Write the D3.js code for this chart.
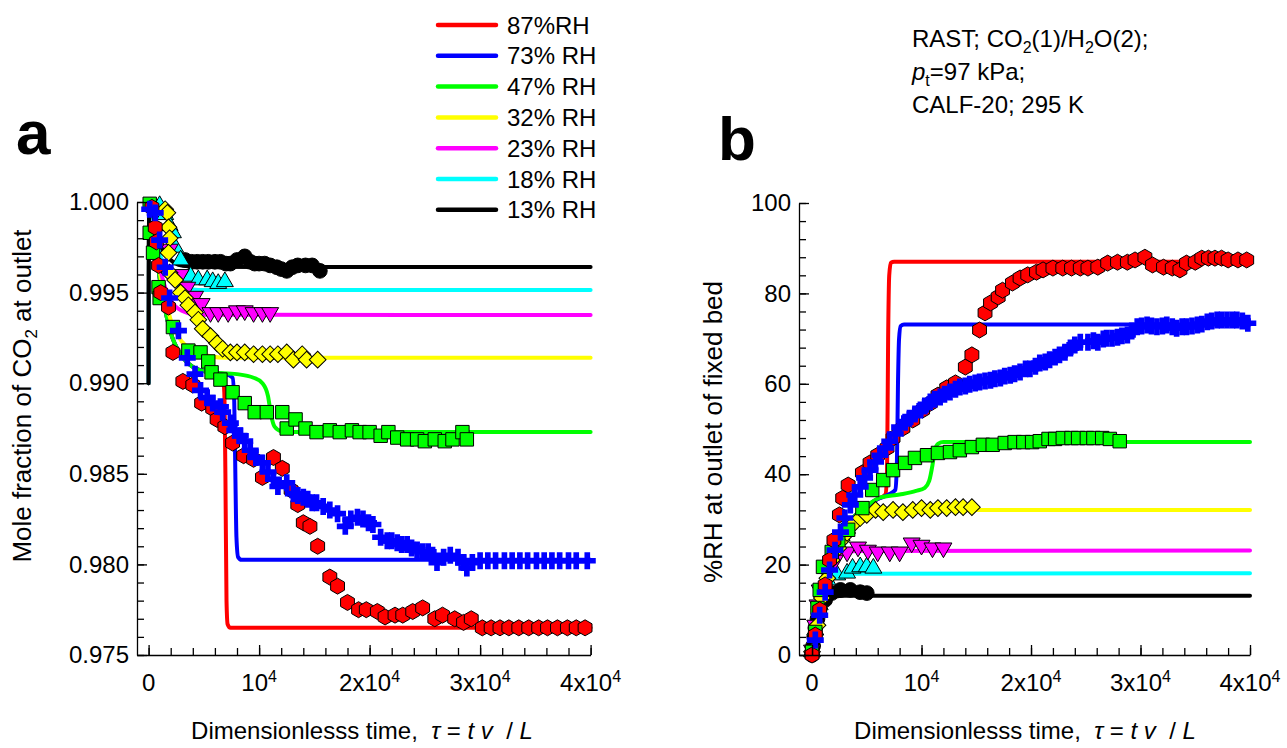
<!DOCTYPE html>
<html>
<head>
<meta charset="utf-8">
<script src="https://cdn.jsdelivr.net/npm/d3@7"></script>
<style>
  body { margin: 0; background: #fff; }
  svg text { font-family: "Liberation Sans", Arial, sans-serif; fill: #000; }
</style>
</head>
<body>
<div id="chart"></div>
<script>
// legend / series setup
var seriesNames = ["87%RH", "73% RH", "47% RH", "32% RH", "23% RH", "18% RH", "13% RH"];
var seriesColors = ["#ff0000", "#0000ff", "#00ff00", "#ffff00", "#ff00ff", "#00ffff", "#000000"];
var seriesSymbols = ["hexagon", "cross", "square", "diamond", "triangleDown", "triangleUp", "circle"];

// tick labels
var xMajorTicks = [0, 10000, 20000, 30000, 40000];
var xTickLabels = [["0", ""], ["10", "4"], ["2x10", "4"], ["3x10", "4"], ["4x10", "4"]];

// ---- panel a : mole fraction of CO2 at outlet, model (RAST) lines ----
var lineA87 = [[0,0.990],[50,1.000],[500,0.9985],[1000,0.9958],[2000,0.9928],[3000,0.9915],[4000,0.9909],[5500,0.9906],[6700,0.9905],[6850,0.9895],[6950,0.9850],[7050,0.9780],[7150,0.9767],[7400,0.9765],[40000,0.9765]];
var lineA73 = [[0,0.990],[50,1.000],[500,0.9985],[1000,0.9958],[2000,0.9928],[3000,0.9915],[4000,0.9909],[5500,0.9906],[7000,0.9905],[7600,0.9903],[7750,0.9890],[7850,0.9850],[7950,0.9815],[8100,0.9804],[8400,0.98025],[40000,0.98025]];
var lineA47 = [[0,0.990],[50,1.000],[500,0.9985],[1000,0.9958],[2000,0.9928],[3000,0.9915],[4000,0.9909],[5500,0.9906],[8000,0.9905],[9500,0.9903],[10300,0.9900],[10800,0.9893],[11100,0.9882],[11400,0.9876],[12000,0.98735],[13000,0.9873],[40000,0.9873]];
var lineA32 = [[0,0.990],[50,1.000],[500,0.9985],[1000,0.9962],[2000,0.9935],[3000,0.9923],[4000,0.9918],[5500,0.9915],[7000,0.9914],[40000,0.9914]];
var lineA23 = [[0,0.990],[50,1.000],[500,0.9985],[1000,0.9965],[2000,0.9946],[3000,0.9940],[4500,0.99378],[40000,0.99376]];
var lineA18 = [[0,0.990],[50,1.000],[500,0.9988],[1000,0.9972],[2000,0.9958],[3000,0.9953],[4500,0.99515],[40000,0.99514]];
var lineA13 = [[0,0.990],[50,1.000],[500,0.9990],[1000,0.9978],[2000,0.9968],[3000,0.9965],[4500,0.99642],[40000,0.99641]];

// ---- panel a : experimental points ----
var expA87 = [[300,0.9997],[600,0.9986],[700,0.9978],[900,0.9965],[1100,0.9950],[1800,0.9942],[2200,0.9917],[3100,0.9901],[4000,0.9899],[4800,0.9889],[5800,0.9886],[6200,0.9880],[6900,0.9876],[7600,0.9867],[8600,0.9860],[9500,0.9858],[10300,0.9848],[11300,0.9859],[12100,0.9853],[12900,0.9841],[13500,0.9833],[14000,0.9823],[14600,0.9821],[15300,0.9810],[16400,0.9793],[17100,0.9788],[18000,0.9779],[19000,0.9775],[19700,0.9775],[20700,0.9774],[21400,0.9771],[22300,0.9772],[23000,0.9772],[23900,0.9774],[24800,0.9776],[25900,0.9770],[26600,0.9772],[27700,0.9770],[28500,0.9768],[29200,0.9770],[30200,0.9765],[31000,0.9765],[31800,0.9765],[32600,0.9765],[33500,0.9765],[34400,0.9765],[35300,0.9765],[36100,0.9765],[37000,0.9765],[37900,0.9765],[38700,0.9765],[39500,0.9765]];
var expA73 = [[100,0.9996],[600,0.9994],[1000,0.9979],[1500,0.9964],[1900,0.9947],[2700,0.9929],[3500,0.9914],[4200,0.9905],[4700,0.9896],[5300,0.9892],[5800,0.9889],[6500,0.9887],[6700,0.9884],[7400,0.9878],[7800,0.9874],[8300,0.9871],[8700,0.9868],[9200,0.9863],[9700,0.9859],[10300,0.9856],[10800,0.9851],[11300,0.9847],[11700,0.9843],[12500,0.9845],[13100,0.9839],[13500,0.9838],[14000,0.9837],[14400,0.9836],[14800,0.9834],[15200,0.9834],[15800,0.9832],[16400,0.9830],[17100,0.9828],[17800,0.9821],[18300,0.9825],[18900,0.9826],[19400,0.9825],[19900,0.9823],[20300,0.9822],[21000,0.9815],[21600,0.9813],[22000,0.9813],[22500,0.9812],[22900,0.9811],[23400,0.9811],[23800,0.9809],[24300,0.9808],[24800,0.9807],[25300,0.9807],[25700,0.9805],[26100,0.9801],[26700,0.9804],[27300,0.9805],[28000,0.9804],[28500,0.9801],[28800,0.9798],[29300,0.9801],[30000,0.9802],[30700,0.9802],[31400,0.9802],[32200,0.9802],[32900,0.9802],[33600,0.9802],[34300,0.9802],[35100,0.9802],[35800,0.9802],[36500,0.9802],[37200,0.9802],[38000,0.9802],[38700,0.9802],[39700,0.9802]];
var expA47 = [[100,0.9999],[100,0.9983],[400,0.9972],[900,0.9953],[1000,0.9947],[2200,0.9931],[3600,0.9918],[4700,0.9917],[5400,0.9912],[5700,0.9906],[6500,0.9902],[7600,0.9895],[8700,0.9889],[9600,0.9884],[10700,0.9884],[12100,0.9884],[12500,0.9875],[13300,0.9880],[14200,0.9875],[15200,0.9873],[16400,0.9874],[17300,0.9873],[18400,0.9874],[19100,0.9873],[20000,0.9873],[21000,0.9871],[21700,0.9873],[22500,0.9870],[23400,0.9869],[24300,0.9869],[25000,0.9868],[25900,0.9869],[26800,0.9868],[27500,0.9869],[28400,0.9873],[28800,0.9869]];
var expA32 = [[1500,0.9996],[1700,0.9994],[1800,0.9986],[1900,0.9980],[1800,0.9972],[1900,0.9961],[2400,0.9957],[2900,0.9950],[3300,0.9947],[3600,0.9943],[4200,0.9939],[4500,0.9935],[4900,0.9930],[5600,0.9926],[6200,0.9922],[6700,0.9919],[7400,0.9917],[8000,0.9917],[8700,0.9917],[9500,0.9916],[10300,0.9916],[11000,0.9916],[11700,0.9916],[12500,0.9917],[13100,0.9913],[13900,0.9916],[14300,0.9913],[15300,0.9913]];
var expA23 = [[1900,0.9974],[2900,0.9960],[3500,0.9953],[4200,0.9948],[4800,0.9944],[5600,0.9939],[6300,0.9939],[7200,0.9939],[8000,0.9940],[8700,0.9940],[9500,0.9939],[10300,0.9939],[11000,0.9939]];
var expA18 = [[1000,0.9998],[1500,0.9993],[1900,0.9987],[2200,0.9983],[2400,0.9975],[2900,0.9968],[3800,0.9959],[4500,0.9957],[5300,0.9957],[5800,0.9956],[6300,0.9955],[6900,0.9956]];
var expA13 = [[3300,0.9968],[3900,0.9967],[4400,0.9967],[4900,0.9967],[5400,0.9967],[6000,0.9967],[6500,0.9967],[7000,0.9966],[7400,0.9966],[8000,0.9968],[8700,0.9970],[9200,0.9967],[9600,0.9966],[10000,0.9966],[10500,0.9966],[11000,0.9965],[11600,0.9964],[12000,0.9963],[12500,0.9962],[13000,0.9964],[13500,0.9965],[14200,0.9965],[14800,0.9965],[15500,0.9962]];

// ---- panel b : %RH at outlet, model lines ----
var lineB87 = [[0,0],[200,6],[600,13],[1200,19],[2000,24],[3000,28],[4000,31],[5000,33],[6000,34.5],[6700,35.5],[6850,40],[6950,70],[7050,84],[7200,86.8],[7500,87],[40000,87]];
var lineB73 = [[0,0],[200,6],[600,13],[1200,19],[2000,24],[3000,28],[4000,31],[5000,33],[6000,34.5],[7000,35.5],[7600,36.5],[7750,42],[7850,60],[7950,70],[8100,72.8],[8400,73.1],[40000,73.1]];
var lineB47 = [[0,0],[200,6],[600,13],[1200,19],[2000,24],[3000,28],[4000,31],[5000,33],[6200,34.8],[8000,35.5],[9500,36.3],[10300,37],[10700,38.5],[11000,42],[11200,45],[11500,46.7],[12000,47.1],[40000,47.1]];
var lineB32 = [[0,0],[200,6],[600,13],[1200,19],[2000,24],[3000,28],[4000,30.5],[5000,31.5],[6000,31.9],[8000,32.1],[40000,32.1]];
var lineB23 = [[0,0],[200,6],[600,13],[1200,18.5],[2000,21.5],[3000,22.6],[4000,23],[40000,23.1]];
var lineB18 = [[0,0],[200,6],[600,12],[1200,16],[2000,17.5],[3000,18],[40000,18.1]];
var lineB13 = [[0,0],[200,5],[600,10],[1200,12.2],[2000,12.9],[3000,13.1],[40000,13.1]];

// ---- panel b : experimental points ----
var expB87 = [[0,0],[300,4.4],[700,10.0],[1200,15.5],[1600,21.0],[2000,25.4],[2500,31.0],[2800,34.7],[3300,37.6],[4600,40.3],[5300,42.5],[6000,44.2],[6850,45.8],[7400,48.0],[8300,50.2],[9200,52.0],[10100,54.2],[10800,55.7],[11500,57.5],[12300,59.1],[13100,60.2],[14000,63.7],[14600,66.4],[15300,71.9],[15800,75.7],[16300,77.9],[17000,79.2],[17400,80.7],[18300,82.3],[19000,83.4],[19700,84.1],[20500,84.7],[21100,85.2],[22000,85.6],[22900,85.6],[23700,85.6],[24500,85.6],[25200,85.6],[26100,85.8],[27000,86.7],[27900,86.9],[28800,86.9],[29500,87.4],[30400,88.0],[31100,86.3],[32100,85.8],[32900,85.6],[33600,85.2],[34200,86.7],[35000,86.9],[35600,87.8],[36200,87.8],[36800,87.8],[37400,87.8],[38000,87.4],[38900,87.4],[39700,87.4]];
var expB73 = [[300,3.3],[700,8.8],[1200,13.9],[1600,18.8],[2100,23.2],[2600,27.2],[3000,30.3],[3500,33.2],[3900,35.4],[4400,37.2],[4800,39.2],[5300,40.9],[5800,42.7],[6200,44.2],[6700,45.8],[7100,47.3],[7600,48.9],[8000,50.4],[8500,51.5],[8900,52.4],[9400,53.3],[9900,54.2],[10300,55.1],[10800,56.0],[11200,56.6],[11700,57.1],[12100,57.7],[12600,58.2],[13100,58.8],[13500,59.3],[14000,59.5],[14400,59.9],[14900,60.2],[15300,60.4],[15800,60.6],[16300,60.8],[16700,61.1],[17200,61.3],[17600,61.7],[18100,61.9],[18500,62.2],[19000,62.6],[19500,63.3],[19900,63.3],[20400,63.9],[20800,64.6],[21300,64.8],[21700,65.3],[22200,65.9],[22600,66.4],[23100,67.0],[23600,67.9],[24000,68.6],[24500,69.2],[25200,69.2],[25700,69.5],[26100,69.2],[26600,69.9],[26900,70.1],[27400,70.1],[27900,70.3],[28300,70.6],[28800,70.8],[29200,71.7],[29700,72.6],[30100,72.8],[30600,73.0],[31000,72.8],[31500,72.6],[32000,72.8],[32400,73.0],[32900,72.6],[33300,72.3],[33800,72.6],[34200,72.6],[34700,72.8],[35200,73.0],[35600,73.2],[36100,73.7],[36500,73.9],[37000,74.1],[37400,74.1],[37900,74.1],[38400,74.1],[38800,74.1],[39300,73.9],[39800,73.4]];
var expB47 = [[0,0.7],[300,5.1],[500,10.4],[700,14.4],[1000,19.5],[1800,22.8],[2400,25.4],[3300,27.7],[4600,32.5],[5500,36.5],[6500,38.7],[7400,40.9],[8500,42.5],[9400,43.6],[10500,44.2],[11500,44.7],[12600,44.9],[13500,45.3],[14600,46.0],[15600,46.5],[16500,46.5],[17600,46.9],[18500,47.1],[19300,47.1],[20100,47.1],[20800,47.3],[21600,47.8],[22200,47.8],[22900,48.0],[23700,48.0],[24300,48.0],[25100,48.0],[25700,48.0],[26500,48.0],[27200,47.8],[28100,47.3]];
var expB32 = [[0,0.7],[500,6.6],[900,12.6],[1400,17.0],[1800,21.0],[2400,23.7],[2700,25.4],[3200,27.0],[3700,28.8],[4400,30.3],[5000,31.0],[5800,32.1],[6500,31.6],[7400,32.1],[8300,31.6],[9200,32.1],[10000,32.5],[10800,32.1],[11500,32.5],[12300,32.5],[13100,32.7],[13800,32.7],[14600,32.7]];
var expB23 = [[0,1.1],[300,6.6],[500,11.1],[700,14.4],[1400,19.2],[2100,21.0],[3200,22.8],[4200,23.9],[5100,23.2],[6000,22.8],[7100,22.8],[8000,22.8],[9100,24.8],[10000,24.3],[11000,23.7],[12000,23.7]];
var expB18 = [[0,0.7],[300,5.5],[700,11.1],[1000,14.4],[1400,16.6],[2300,17.7],[3200,18.1],[3700,19.2],[4400,19.5],[5000,19.5],[5600,19.2]];
var expB13 = [[0,0],[100,2],[200,4],[300,6],[500,8],[700,10.4],[1200,12.2],[1800,13.7],[2600,14.4],[3500,14.4],[4400,13.9],[5000,13.7]];

var linesA = [lineA87, lineA73, lineA47, lineA32, lineA23, lineA18, lineA13];
var pointsA = [expA87, expA73, expA47, expA32, expA23, expA18, expA13];
var linesB = [lineB87, lineB73, lineB47, lineB32, lineB23, lineB18, lineB13];
var pointsB = [expB87, expB73, expB47, expB32, expB23, expB18, expB13];

// marker draw order (bottom to top)
var markerOrder = [6, 5, 4, 3, 2, 0, 1];

var svgWidth = 1287, svgHeight = 748;
var svg = d3.select("#chart").append("svg")
  .attr("width", svgWidth)
  .attr("height", svgHeight);

var fontSize = 24;
var titleSize = 24;
var yTitleSize = 26;

// hexagon with pointy top
function hexPath(r) {
  var pts = d3.range(6).map(function(k) {
    var a = (-90 + 60 * k) * Math.PI / 180;
    return [r * Math.cos(a), r * Math.sin(a)];
  });
  return "M" + pts.join("L") + "Z";
}

function markerPath(kind) {
  switch (kind) {
    case "hexagon": return hexPath(8);
    case "cross": return d3.symbol(d3.symbolCross, 160)();
    case "square": return d3.symbol(d3.symbolSquare, 180)();
    case "diamond": return d3.symbol(d3.symbolSquare, 140)();
    case "triangleUp": return d3.symbol(d3.symbolTriangle, 125)();
    case "triangleDown": return d3.symbol(d3.symbolTriangle, 125)();
    default: return d3.symbol(d3.symbolCircle, 170)();
  }
}
function markerRotate(kind) {
  if (kind === "diamond") return 45;
  if (kind === "triangleDown") return 180;
  return 0;
}

function drawPanel(p) {
  var g = svg.append("g");
  var x = p.x, y = p.y;

  // model lines
  var line = d3.line()
    .x(function(d) { return x(d[0]); })
    .y(function(d) { return y(d[1]); })
    .curve(d3.curveMonotoneX);

  p.lines.forEach(function(ser, i) {
    g.append("path")
      .datum(ser)
      .attr("d", line)
      .attr("fill", "none")
      .attr("stroke", seriesColors[i])
      .attr("stroke-width", 4)
      .attr("stroke-linecap", "round")
      .attr("stroke-linejoin", "round");
  });

  // experimental markers
  markerOrder.forEach(function(i) {
    var kind = seriesSymbols[i];
    var path = markerPath(kind);
    var rot = markerRotate(kind);
    g.append("g").selectAll("path")
      .data(p.points[i])
      .enter().append("path")
      .attr("d", path)
      .attr("transform", function(d) {
        return "translate(" + x(d[0]) + "," + y(d[1]) + ") rotate(" + rot + ")";
      })
      .attr("fill", seriesColors[i])
      .attr("stroke", kind === "cross" ? "none" : "#000")
      .attr("stroke-width", 1);
  });

  // x axis: minor + major ticks, pointing inward
  var xAxisG = g.append("g").attr("transform", "translate(0," + y.range()[0] + ")");
  xAxisG.call(d3.axisBottom(x).tickValues(d3.range(0, 40001, 2000)).tickSize(-7).tickSizeOuter(0).tickFormat(""));
  xAxisG.append("g").call(d3.axisBottom(x).tickValues(xMajorTicks).tickSize(-10).tickSizeOuter(0).tickFormat(""))
    .select(".domain").remove();

  // y axis
  var yAxisG = g.append("g").attr("transform", "translate(" + x.range()[0] + ",0)");
  yAxisG.call(d3.axisLeft(y).tickValues(p.yMinor).tickSize(-7).tickSizeOuter(0).tickFormat(""));
  yAxisG.append("g").call(d3.axisLeft(y).tickValues(p.yMajor).tickSize(-10).tickSizeOuter(0)
      .tickPadding(8).tickFormat(p.yFormat))
    .call(function(a) {
      a.select(".domain").remove();
      a.selectAll("text")
        .attr("font-family", "Liberation Sans, Arial, sans-serif")
        .attr("font-size", fontSize)
        .attr("fill", "#000");
    });

  g.selectAll(".domain, .tick line").attr("stroke", "#000").attr("stroke-width", 1.3);

  // x tick labels with superscripts
  xMajorTicks.forEach(function(v, k) {
    var t = g.append("text")
      .attr("x", x(v))
      .attr("y", 691)
      .attr("text-anchor", "middle")
      .attr("font-size", fontSize);
    t.append("tspan").text(xTickLabels[k][0]);
    if (xTickLabels[k][1]) {
      t.append("tspan").attr("dy", -9).attr("font-size", 16).text(xTickLabels[k][1]);
    }
  });

  // x title
  var xt = g.append("text")
    .attr("x", p.xTitleX)
    .attr("y", 739)
    .attr("text-anchor", "middle")
    .attr("font-size", titleSize)
    .attr("xml:space", "preserve");
  xt.append("tspan").text("Dimensionlesss time,  ");
  xt.append("tspan").attr("font-style", "italic").text("τ");
  xt.append("tspan").text(" = ");
  xt.append("tspan").attr("font-style", "italic").text("t v");
  xt.append("tspan").text("  / ");
  xt.append("tspan").attr("font-style", "italic").text("L");

  // y title
  var yt = g.append("text")
    .attr("transform", "translate(" + p.yTitleX + "," + p.yTitleY + ") rotate(-90)")
    .attr("text-anchor", "middle")
    .attr("font-size", yTitleSize);
  p.yTitle(yt);

  // panel letter
  g.append("text")
    .attr("x", p.letterX)
    .attr("y", p.letterY)
    .attr("font-size", 62)
    .attr("font-weight", "bold")
    .text(p.letter);
}

var xA = d3.scaleLinear().domain([-1050, 40000]).range([137, 590.6]);
var yA = d3.scaleLinear().domain([0.975, 1.000]).range([655, 202]);
var xB = d3.scaleLinear().domain([-1190, 40000]).range([799, 1250]);
var yB = d3.scaleLinear().domain([0, 100]).range([655, 203]);

drawPanel({
  x: xA, y: yA, lines: linesA, points: pointsA,
  yMinor: d3.range(0, 26).map(function(i) { return 0.975 + i * 0.001; }),
  yMajor: [0.975, 0.980, 0.985, 0.990, 0.995, 1.000],
  yFormat: d3.format(".3f"),
  xTitleX: 362, yTitleX: 31, yTitleY: 396,
  yTitle: function(t) {
    t.append("tspan").text("Mole fraction of CO");
    t.append("tspan").attr("dy", 6).attr("font-size", 17).text("2");
    t.append("tspan").attr("dy", -6).text(" at outlet");
  },
  letter: "a", letterX: 16, letterY: 154
});

drawPanel({
  x: xB, y: yB, lines: linesB, points: pointsB,
  yMinor: d3.range(0, 101, 4),
  yMajor: [0, 20, 40, 60, 80, 100],
  yFormat: d3.format("d"),
  xTitleX: 1025, yTitleX: 722, yTitleY: 432,
  yTitle: function(t) {
    t.text("%RH at outlet of fixed bed");
  },
  letter: "b", letterX: 718, letterY: 160
});

// legend
var legend = svg.append("g");
seriesNames.forEach(function(name, i) {
  var cy = 25 + i * 30.8;
  legend.append("line")
    .attr("x1", 438).attr("x2", 496)
    .attr("y1", cy).attr("y2", cy)
    .attr("stroke", seriesColors[i])
    .attr("stroke-width", 4.5)
    .attr("stroke-linecap", "round");
  legend.append("text")
    .attr("x", 507).attr("y", cy + 8.5)
    .attr("font-size", fontSize)
    .text(name);
});

// annotation
var note = svg.append("g");
var l1 = note.append("text").attr("x", 912).attr("y", 47).attr("font-size", fontSize);
l1.append("tspan").text("RAST; CO");
l1.append("tspan").attr("dy", 6).attr("font-size", 16).text("2");
l1.append("tspan").attr("dy", -6).text("(1)/H");
l1.append("tspan").attr("dy", 6).attr("font-size", 16).text("2");
l1.append("tspan").attr("dy", -6).text("O(2);");
var l2 = note.append("text").attr("x", 912).attr("y", 80).attr("font-size", fontSize);
l2.append("tspan").attr("font-style", "italic").text("p");
l2.append("tspan").attr("dy", 6).attr("font-size", 16).text("t");
l2.append("tspan").attr("dy", -6).text("=97 kPa;");
note.append("text").attr("x", 912).attr("y", 113).attr("font-size", fontSize).text("CALF-20; 295 K");
</script>
</body>
</html>
